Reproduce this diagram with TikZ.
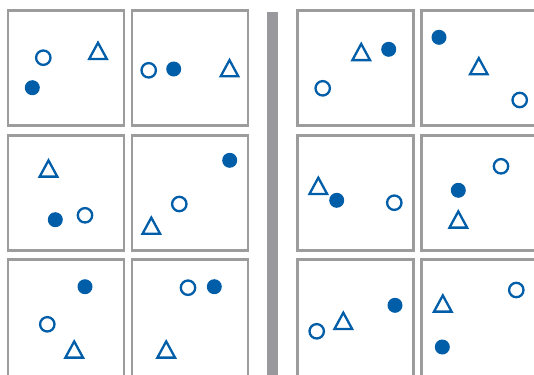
\documentclass[tikz,border=0pt]{standalone}
\definecolor{mblue}{HTML}{005DA8}
\definecolor{pgray}{HTML}{9C9C9C}
\definecolor{bgray}{HTML}{98989D}
\tikzset{
  panel/.style={draw=pgray,line width=2.7bp,fill=white},
  mk/.style={draw=mblue,line width=2.3bp},
  pics/oc/.style={code={\draw[mk] (0,0) circle[radius=7.2];}},
  pics/fc/.style={code={\fill[mblue] (0,0) circle[radius=7.5];}},
  pics/tr/.style={code={\draw[mk,line join=miter] (-8.8,8.6) -- (8.8,8.6) -- (0,-7.6) -- cycle;}}
}
\begin{document}
\begin{tikzpicture}[x=1bp,y=-1bp]
\useasboundingbox (0,0) rectangle (534,374);
\clip (0,0) rectangle (534,374);
% separator bar
\fill[bgray] (267.3,11.7) rectangle (278.3,380);
% panels
\foreach \px in {8,132,297.5,421.5}{
  \foreach \py in {10.7,135.2}{
    \draw[panel] (\px,\py) rectangle ++(116,115);
  }
  \draw[panel] (\px,259.7) rectangle ++(116,140);
}
% left row 1
\pic at (43.3,57.7) {oc};
\pic at (32.3,87.7) {fc};
\pic at (98,50.3) {tr};
\pic at (148.7,70.3) {oc};
\pic at (173.7,69) {fc};
\pic at (229.5,67.7) {tr};
% right row 1
\pic at (361.2,51.5) {tr};
\pic at (388.7,49.3) {fc};
\pic at (322.7,88.3) {oc};
\pic at (439,37.3) {fc};
\pic at (478.8,65.7) {tr};
\pic at (519.7,100) {oc};
% left row 2
\pic at (48.5,168) {tr};
\pic at (55.3,219.7) {fc};
\pic at (85,215.3) {oc};
\pic at (229.7,160.3) {fc};
\pic at (179.3,204) {oc};
\pic at (151.3,225.2) {tr};
% right row 2
\pic at (318.3,185.3) {tr};
\pic at (336.7,200.3) {fc};
\pic at (394.3,202.7) {oc};
\pic at (501,166.3) {oc};
\pic at (458.3,190.3) {fc};
\pic at (458.3,219) {tr};
% left row 3
\pic at (85,286.7) {fc};
\pic at (47.3,324.3) {oc};
\pic at (74.2,349) {tr};
\pic at (188,287.7) {oc};
\pic at (214.3,286.7) {fc};
\pic at (166.2,349) {tr};
% right row 3
\pic at (395,305.3) {fc};
\pic at (343.3,320.3) {tr};
\pic at (316.7,331.3) {oc};
\pic at (516.3,290) {oc};
\pic at (442.8,303) {tr};
\pic at (442.3,347) {fc};
\end{tikzpicture}
\end{document}
